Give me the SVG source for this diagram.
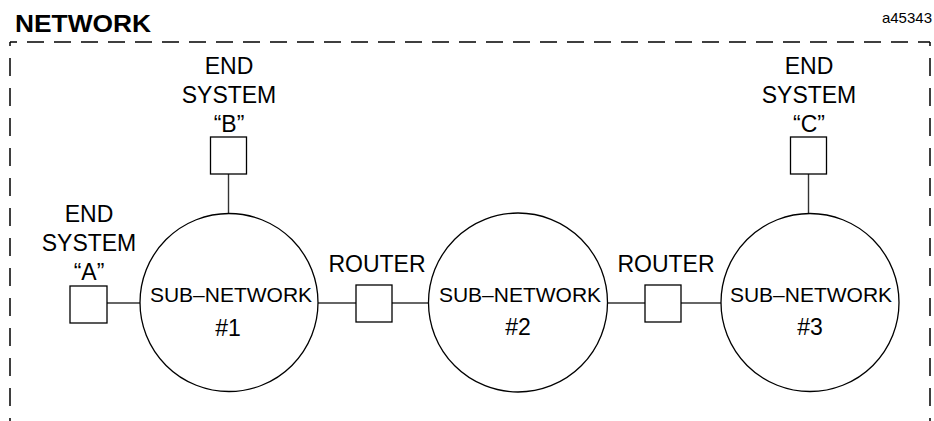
<svg xmlns="http://www.w3.org/2000/svg" width="934" height="421" viewBox="0 0 934 421">
<style>
text{font-family:"Liberation Sans",Arial,sans-serif;fill:#000;text-anchor:middle}
.lbl{font-size:23px}
.sub{font-size:21px}
.num{font-size:23px}
.title{font-size:24px;font-weight:bold;text-anchor:start}
.id{font-size:15px;text-anchor:end}
.box{fill:#fff;stroke:#000;stroke-width:1.3}
.net{fill:#fff;stroke:#000;stroke-width:1.3}
.conn{stroke:#333;stroke-width:1.4;fill:none}
.border{stroke:#000;stroke-width:1.5;fill:none;stroke-dasharray:17 10}
</style>
<rect width="934" height="421" fill="#fff"/>
<g id="network-border">
<path class="border" d="M10,42 H930" style="stroke-dashoffset:10"/>
<path class="border" d="M10,42 V421" style="stroke-dasharray:18 12;stroke-dashoffset:14"/>
<path class="border" d="M930,42 V421" style="stroke-dasharray:18 12;stroke-dashoffset:14"/>
<text class="title" x="15" y="32" textLength="136" lengthAdjust="spacingAndGlyphs">NETWORK</text>
<text class="id" x="932" y="23">a45343</text>
</g>
<g id="connectors">
<line class="conn" x1="107" y1="303" x2="140" y2="303"/>
<line class="conn" x1="318" y1="303" x2="356" y2="303"/>
<line class="conn" x1="392" y1="303" x2="429" y2="303"/>
<line class="conn" x1="607" y1="303" x2="645" y2="303"/>
<line class="conn" x1="681" y1="303" x2="721" y2="303"/>
<line class="conn" x1="228.5" y1="174" x2="228.5" y2="213"/>
<line class="conn" x1="808.5" y1="174" x2="808.5" y2="213"/>
</g>
<g id="end-system-a">
<rect class="box" x="70" y="286" width="37" height="37"/>
<text class="lbl" x="89" y="222">END</text>
<text class="lbl" x="89" y="251">SYSTEM</text>
<text class="lbl" x="89" y="280">“A”</text>
</g>
<g id="end-system-b">
<rect class="box" x="210.5" y="137" width="36" height="37"/>
<text class="lbl" x="229" y="74">END</text>
<text class="lbl" x="229" y="103">SYSTEM</text>
<text class="lbl" x="229" y="132">“B”</text>
</g>
<g id="end-system-c">
<rect class="box" x="790.5" y="137" width="36" height="37"/>
<text class="lbl" x="809" y="74">END</text>
<text class="lbl" x="809" y="103">SYSTEM</text>
<text class="lbl" x="809" y="132">“C”</text>
</g>
<g id="sub-network-1">
<circle class="net" cx="229" cy="302.5" r="89"/>
<text class="sub" x="231" y="302">SUB–NETWORK</text>
<text class="num" x="228" y="336">#1</text>
</g>
<g id="router-1">
<rect class="box" x="356" y="285" width="36" height="37"/>
<text class="lbl" x="377" y="272">ROUTER</text>
</g>
<g id="sub-network-2">
<circle class="net" cx="518" cy="302.5" r="89.5"/>
<text class="sub" x="520" y="302">SUB–NETWORK</text>
<text class="num" x="518" y="335">#2</text>
</g>
<g id="router-2">
<rect class="box" x="645" y="285" width="36" height="37"/>
<text class="lbl" x="666" y="272">ROUTER</text>
</g>
<g id="sub-network-3">
<circle class="net" cx="810" cy="302.5" r="89"/>
<text class="sub" x="811" y="302">SUB–NETWORK</text>
<text class="num" x="810" y="335">#3</text>
</g>
</svg>
